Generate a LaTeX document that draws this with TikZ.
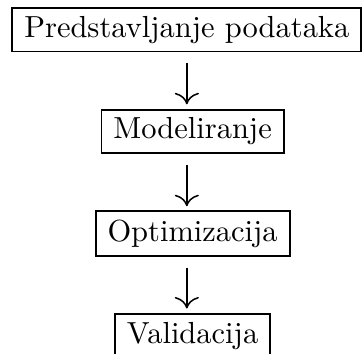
\documentclass[tikz,border=0pt]{standalone}
\usetikzlibrary{positioning,arrows.meta}

\begin{document}
\begin{tikzpicture}[
    box/.style={draw,line width=.65pt,inner xsep=3.9pt,inner ysep=2.7pt},
    flow/.style={line width=.5pt,-{To[scale=1.4]},shorten <=3.6pt,shorten >=1.4pt},
    node distance=18.4pt
    ]
    \useasboundingbox (-61.3pt, 9.7pt) rectangle (57.8pt, -106.4pt);
    \node[box] (p1) at (0, 0) {Predstavljanje podataka};
    \node[box,below=of p1,xshift=1.9pt] (p2) {Modeliranje};
    \node[box,below=of p2] (p3) {Optimizacija};
    \node[box,below=of p3] (p4) {Validacija};
    \draw[flow] (p1.south) -- (p1.south |- p2.north);
    \draw[flow] (p1.south |- p2.south) -- (p1.south |- p3.north);
    \draw[flow] (p1.south |- p3.south) -- (p1.south |- p4.north);
  \end{tikzpicture}
\end{document}
